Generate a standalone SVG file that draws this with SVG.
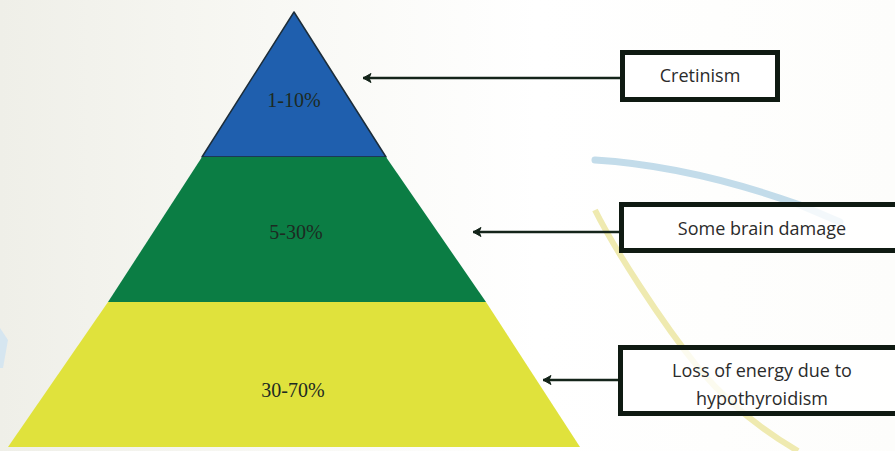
<svg xmlns="http://www.w3.org/2000/svg" width="895" height="451" viewBox="0 0 895 451">
<defs>
<linearGradient id="bg" x1="0" y1="0" x2="1" y2="0">
<stop offset="0" stop-color="#efefe8"/>
<stop offset="0.3" stop-color="#f8f8f4"/>
<stop offset="0.6" stop-color="#ffffff"/>
<stop offset="1" stop-color="#fdfdfb"/>
</linearGradient>
<marker id="ah" markerWidth="12" markerHeight="12" refX="1" refY="6" orient="auto" markerUnits="userSpaceOnUse">
<path d="M1,6 L9,1.5 L7,6 L9,10.5 Z" fill="#14241a" stroke="#14241a" stroke-width="1" stroke-linejoin="round"/>
</marker>
<style>
.band-label{font-family:"Liberation Serif","Times New Roman",serif;font-size:20px;fill:#1d2a22;text-anchor:middle}
.box{fill:#ffffff;fill-opacity:0.8;stroke:#0f1a12;stroke-width:5}
.box-label{font-family:"Open Sans","Liberation Sans",sans-serif;font-size:18px;fill:#2b2b2b;text-anchor:middle}
.conn{stroke:#14241a;stroke-width:2.5;fill:none;marker-start:url(#ah)}
</style>
</defs>
<rect x="0" y="0" width="895" height="451" fill="url(#bg)"/>
<!-- background decorative arcs -->
<path d="M595,160 C660,164 730,180 800,205 L840,222" fill="none" stroke="#c3dcea" stroke-width="7" stroke-linecap="round"/>
<path d="M595,210 C615,250 660,320 700,370 C730,405 765,432 798,451" fill="none" stroke="#efeab0" stroke-width="6"/>
<path d="M0,328 L8,340 L3,368 L0,368 Z" fill="#d6e6f0"/>
<!-- pyramid -->
<g id="band-top">
<polygon points="294,12 386,157 202,157" fill="#1f5fae" stroke="#1c2d3a" stroke-width="1.5" stroke-linejoin="round"/>
<text class="band-label" x="294" y="107">1-10%</text>
</g>
<g id="band-middle">
<polygon points="202,157 386,157 486,302 108,302" fill="#0b7d44"/>
<text class="band-label" x="296" y="239">5-30%</text>
</g>
<g id="band-bottom">
<polygon points="108,302 486,302 580,447 8,447" fill="#e0e23c"/>
<text class="band-label" x="293" y="397">30-70%</text>
</g>
<!-- boxes -->
<g id="box-cretinism">
<rect class="box" x="622.5" y="52.5" width="155" height="47"/>
<text class="box-label" x="700" y="82">Cretinism</text>
</g>
<g id="box-brain">
<rect class="box" x="621.5" y="204.5" width="300" height="46"/>
<text class="box-label" x="762" y="235">Some brain damage</text>
</g>
<g id="box-energy">
<rect class="box" x="620.5" y="347.5" width="300" height="66"/>
<text class="box-label" x="762" y="377">Loss of energy due to</text>
<text class="box-label" x="762" y="405">hypothyroidism</text>
</g>
<!-- connectors -->
<g id="connectors">
<line class="conn" x1="363" y1="78" x2="620" y2="78"/>
<line class="conn" x1="473" y1="232" x2="619" y2="232"/>
<line class="conn" x1="543" y1="380" x2="618" y2="380"/>
</g>
</svg>
